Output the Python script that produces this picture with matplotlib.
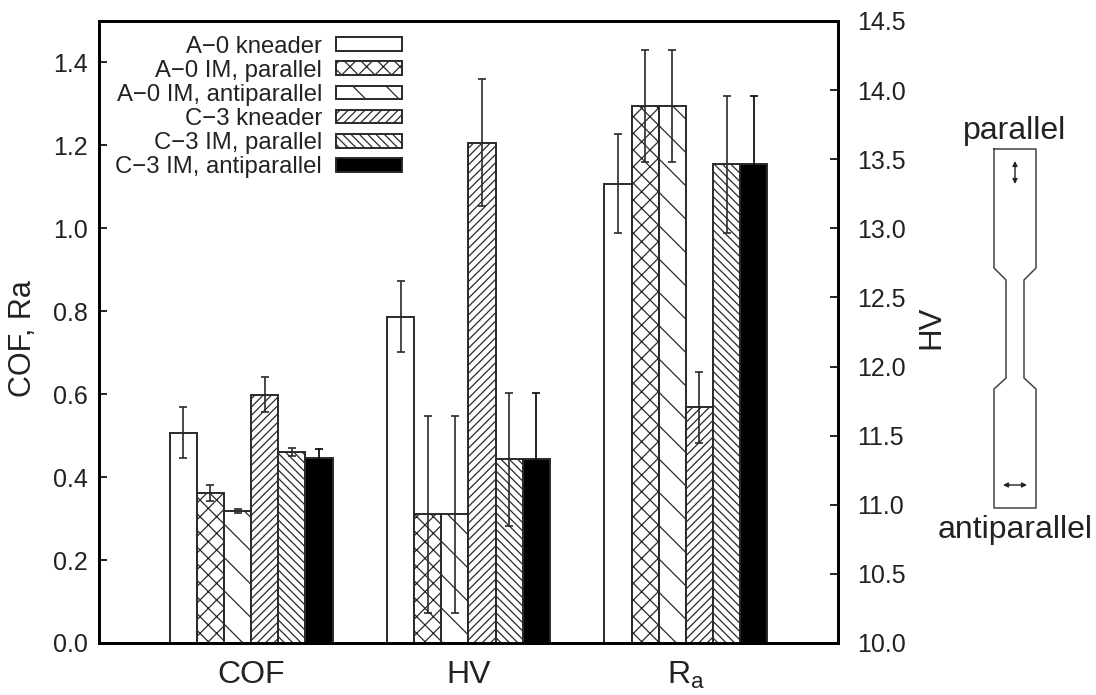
import matplotlib
matplotlib.use("Agg")
import matplotlib.pyplot as plt
import numpy as np

plt.rcParams['font.family'] = ['Liberation Sans', 'DejaVu Sans']
plt.rcParams['mathtext.fontset'] = 'custom'
plt.rcParams['mathtext.rm'] = 'Liberation Sans'
plt.rcParams['hatch.linewidth'] = 0.9

# series and groups
series = ['A\u22120 kneader', 'A\u22120 IM, parallel', 'A\u22120 IM, antiparallel',
          'C\u22123 kneader', 'C\u22123 IM, parallel', 'C\u22123 IM, antiparallel']
groups = ['COF', 'HV', r'$\mathrm{R_a}$']
hatches = ['', 'xx', '\\', '////', '\\\\\\\\', '']
faces = ['white', 'white', 'white', 'white', 'white', 'black']
err_colors = ['#2a2a2a'] * 5 + ['black']

# values
cof = [0.507, 0.361, 0.318, 0.599, 0.461, 0.446]
cof_err = [0.062, 0.019, 0.005, 0.042, 0.009, 0.021]
hv = [12.36, 10.93, 10.93, 13.62, 11.33, 11.33]
hv_err = [0.257, 0.711, 0.711, 0.458, 0.48, 0.48]
ra = [1.108, 1.294, 1.294, 0.568, 1.154, 1.154]
ra_err = [0.12, 0.135, 0.135, 0.086, 0.165, 0.165]

# specimen sketch on the right, in picture pixels
spec_x = [994, 1036, 1036, 1024, 1024, 1036, 1036, 994, 994, 1006, 1006, 994, 994]
spec_y = [149, 149, 268, 280, 378, 389, 508, 508, 389, 378, 280, 268, 149]

dark = '#222222'
W, H = 1096, 695
fig = plt.figure(figsize=(W / 100, H / 100), dpi=100)
ax = fig.add_axes([99 / W, (H - 643) / H, 739 / W, 622 / H])
ax2 = ax.twinx()

width = 0.125
offsets = (np.arange(6) - 2.5) * width

for i in range(6):
    err_style = dict(ecolor=err_colors[i], elinewidth=1.2, capsize=3, capthick=1.2)
    ax.bar(0 + offsets[i], cof[i], width, yerr=cof_err[i], color=faces[i], edgecolor='#2a2a2a',
           hatch=hatches[i], linewidth=1.4, error_kw=err_style, label=series[i])
    ax2.bar(1 + offsets[i], hv[i] - 10, width, bottom=10, yerr=hv_err[i], color=faces[i],
            edgecolor='#2a2a2a', hatch=hatches[i], linewidth=1.4, error_kw=err_style)
    ax.bar(2 + offsets[i], ra[i], width, yerr=ra_err[i], color=faces[i], edgecolor='#2a2a2a',
           hatch=hatches[i], linewidth=1.4, error_kw=err_style)

ax.set_xlim(-0.7, 2.7)
ax.set_ylim(0, 1.5)
ax2.set_ylim(10, 14.5)
ax.set_xticks([0, 1, 2])
ax.set_xticklabels(groups, fontsize=23, color=dark)
ax.tick_params(axis='x', length=0, pad=12)
ax.set_yticks(np.arange(0, 1.41, 0.2))
ax.tick_params(axis='y', direction='in', length=6, width=1.2, labelsize=18, labelcolor=dark, pad=8)
ax2.set_yticks(np.arange(10, 14.51, 0.5))
ax2.tick_params(axis='y', direction='in', length=6, width=1.2, labelsize=18, labelcolor=dark, pad=14)

ax.set_ylabel('COF, Ra', fontsize=22, color=dark)
ax.yaxis.set_label_coords(-0.083, 0.49)
ax2.set_ylabel('HV', fontsize=22.5, color=dark)
ax2.yaxis.set_label_coords(1.106, 0.507)

for a in (ax, ax2):
    for s in a.spines.values():
        s.set_linewidth(2)

ax.legend(loc='upper right', bbox_to_anchor=(0.41, 0.9765), frameon=False, markerfirst=False,
          fontsize=17.2, borderaxespad=0, borderpad=0, labelspacing=0.09, handlelength=2.75,
          handleheight=0.5, handletextpad=0.6, labelcolor=dark)

# specimen drawing
sk = fig.add_axes([0, 0, 1, 1])
sk.set_xlim(0, W)
sk.set_ylim(H, 0)
sk.axis('off')
sk.plot(spec_x, spec_y, color='#444444', lw=1.1)
sk.annotate('', xy=(1015, 161), xytext=(1015, 184),
            arrowprops=dict(arrowstyle='<|-|>', color='#222222', lw=1, mutation_scale=7, shrinkA=0, shrinkB=0))
sk.annotate('', xy=(1003, 485), xytext=(1027, 485),
            arrowprops=dict(arrowstyle='<|-|>', color='#222222', lw=1, mutation_scale=7, shrinkA=0, shrinkB=0))
sk.text(1015, 131, 'parallel', fontsize=23, color=dark, ha='center', va='center')
sk.text(1015, 530, 'antiparallel', fontsize=23, color=dark, ha='center', va='center')

fig.savefig('out.png', dpi=100)
